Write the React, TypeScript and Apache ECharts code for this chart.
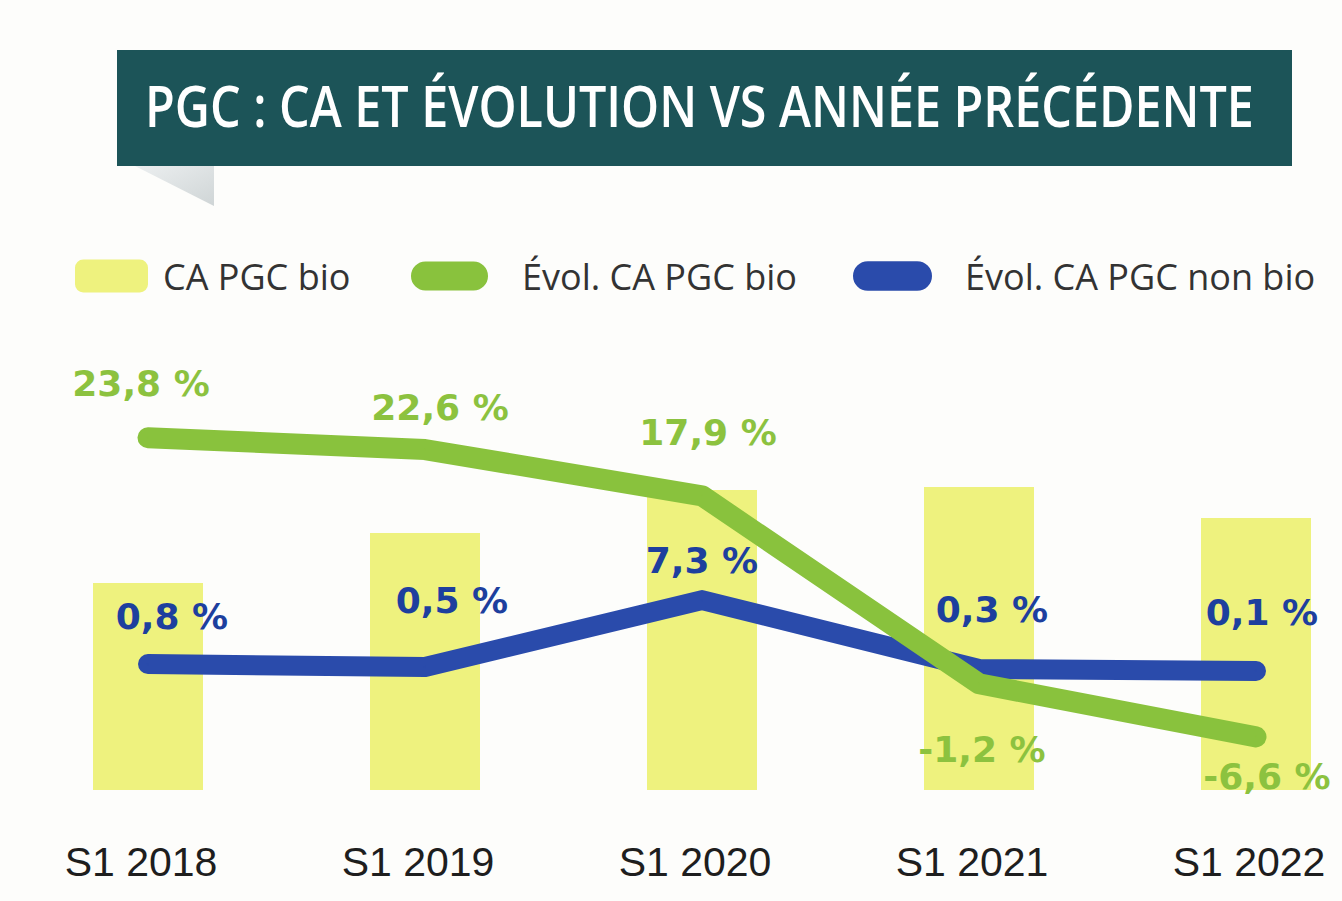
import React, { useEffect, useRef } from "react";
import * as echarts from "echarts";

// ---- data ----
const categories = ["S1 2018", "S1 2019", "S1 2020", "S1 2021", "S1 2022"];
// CA PGC bio (bar heights, relative units)
const caBio = [2.07, 2.57, 3.0, 3.03, 2.72];
// Évolution vs année précédente (%)
const evolBio = [23.8, 22.6, 17.9, -1.2, -6.6];
const evolNonBio = [0.8, 0.5, 7.3, 0.3, 0.1];
const seriesNames = ["CA PGC bio", "Évol. CA PGC bio", "Évol. CA PGC non bio"];
const titleText = "PGC : CA ET ÉVOLUTION VS ANNÉE PRÉCÉDENTE";

// label placement (layout only)
const bioLabelOffsets = [[-7, -54], [15, -42], [6, -63], [3, 66], [11, 40]];
const nonBioLabelOffsets = [[24, -48], [27, -67], [0, -40], [13, -59], [6, -58]];

const GREEN = "#89c23d";
const GREEN_TXT = "#8cc23f";
const BLUE = "#2a4bab";
const BLUE_TXT = "#1d3f9e";
const YELLOW = "#eef27e";
const TEAL = "#1c5458";

const pct = (v: number) => v.toFixed(1).replace(".", ",") + " %";
const pill = "path://M15,0 H65 A15,15 0 0 1 65,30 H15 A15,15 0 0 1 15,0 Z";

export default function App() {
  const ref = useRef<HTMLDivElement>(null);
  useEffect(() => {
    if (!ref.current) return;
    const chart = echarts.init(ref.current, undefined, { renderer: "svg" });
    const labelBase = {
      show: true,
      position: "inside",
      fontSize: 36,
      fontWeight: "bold",
      fontFamily: "DejaVu Sans",
      textBorderWidth: 0,
      formatter: (p: any) => pct(p.value),
    };
    const legendText = {
      fontSize: 36,
      fontFamily: "Open Sans",
      color: "#333333",
    };
    const legendBase = {
      top: 258,
      padding: 0,
      itemHeight: 33,
    };
    chart.setOption({
      animation: false,
      backgroundColor: "#fdfdfb",
      graphic: [
        {
          type: "polygon",
          shape: { points: [[135, 166], [214, 166], [214, 206]] },
          style: {
            fill: new echarts.graphic.LinearGradient(0, 0, 1, 1, [
              { offset: 0, color: "#eceff0" },
              { offset: 1, color: "#cfd5d6" },
            ]),
          },
        },
        {
          type: "rect",
          shape: { x: 117, y: 50, width: 1175, height: 116 },
          style: { fill: TEAL },
        },
        {
          type: "text",
          x: 145,
          y: 104,
          scaleX: 0.85,
          style: {
            text: titleText,
            fill: "#ffffff",
            fontSize: 57,
            fontWeight: 600,
            fontFamily: "Open Sans",
            verticalAlign: "middle",
            align: "left",
          },
        },
      ],
      legend: [
        {
          ...legendBase,
          data: [seriesNames[0]],
          left: 75,
          itemWidth: 73,
          icon: "roundRect",
          textStyle: { ...legendText, padding: [0, 0, 0, 10] },
        },
        {
          ...legendBase,
          data: [seriesNames[1]],
          left: 411,
          itemWidth: 77,
          icon: pill,
          textStyle: { ...legendText, padding: [0, 0, 0, 29] },
        },
        {
          ...legendBase,
          data: [seriesNames[2]],
          left: 853,
          itemWidth: 79,
          icon: pill,
          textStyle: { ...legendText, padding: [0, 0, 0, 28] },
        },
      ],
      grid: { left: 148, right: 86, top: 300, bottom: 111 },
      xAxis: {
        type: "category",
        data: categories,
        boundaryGap: false,
        axisLine: { show: false },
        axisTick: { show: false },
        splitLine: { show: false },
        axisLabel: {
          fontSize: 41,
          fontFamily: "Liberation Sans",
          color: "#1e1e1e",
          margin: 51,
          padding: [0, 14, 0, 0],
        },
      },
      yAxis: [
        { type: "value", min: 0, max: 4.9, show: false, splitLine: { show: false } },
        { type: "value", min: -12, max: 37.8, show: false, splitLine: { show: false } },
      ],
      series: [
        {
          name: seriesNames[0],
          type: "bar",
          yAxisIndex: 0,
          data: caBio,
          barWidth: 110,
          itemStyle: { color: YELLOW },
          z: 1,
        },
        {
          name: seriesNames[2],
          type: "line",
          yAxisIndex: 1,
          data: evolNonBio.map((v, i) => ({ value: v, label: { offset: nonBioLabelOffsets[i] } })),
          symbol: "circle",
          symbolSize: 2,
          showSymbol: true,
          itemStyle: { color: BLUE },
          lineStyle: { width: 20, color: BLUE, cap: "round", join: "round" },
          label: { ...labelBase, color: BLUE_TXT },
          z: 3,
        },
        {
          name: seriesNames[1],
          type: "line",
          yAxisIndex: 1,
          data: evolBio.map((v, i) => ({ value: v, label: { offset: bioLabelOffsets[i] } })),
          symbol: "circle",
          symbolSize: 2,
          showSymbol: true,
          itemStyle: { color: GREEN },
          lineStyle: { width: 21, color: GREEN, cap: "round", join: "round" },
          label: { ...labelBase, color: GREEN_TXT },
          z: 4,
        },
      ],
    });
    return () => chart.dispose();
  }, []);
  return (
    <div
      ref={ref}
      style={{ position: "fixed", left: 0, top: 0, width: 1342, height: 901, background: "#fdfdfb" }}
    />
  );
}
